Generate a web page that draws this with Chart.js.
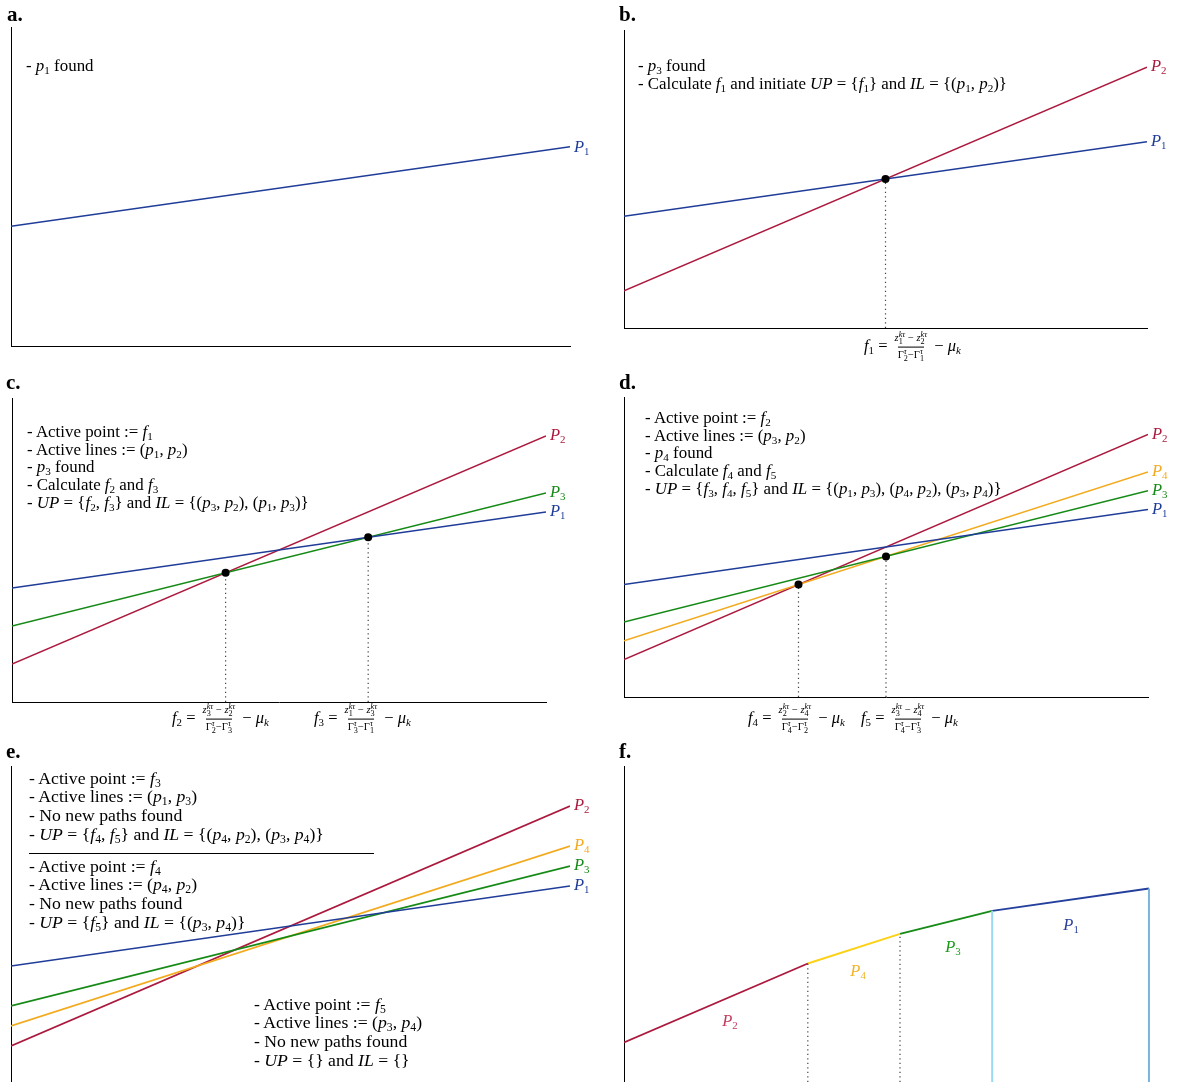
<!DOCTYPE html>
<html><head><meta charset="utf-8">
<script src="https://cdn.jsdelivr.net/npm/chart.js@4.4.1/dist/chart.umd.min.js"></script>
<style>
html,body{margin:0;padding:0;width:1177px;height:1082px;overflow:hidden;background:#fff;}
canvas{position:absolute;}
.t{position:absolute;font-family:"Liberation Serif","Times New Roman",serif;color:#000;white-space:nowrap;}
.blk{font-size:16.9px;line-height:17.6px;}
.blk.big{font-size:17.7px;line-height:18.7px;}
.pl{font-size:21px;font-weight:bold;line-height:1;}
sub{font-size:0.66em;vertical-align:-0.28em;line-height:0;}
.lab{position:absolute;font-family:"Liberation Serif","Times New Roman",serif;font-style:italic;font-size:16.5px;line-height:1;white-space:nowrap;}
.lab sub{font-style:normal;}
.fx{font-size:16.5px;line-height:1;}
.frac{display:inline-flex;flex-direction:column;align-items:center;vertical-align:middle;font-size:10.5px;line-height:1;margin:0 3px;}
.frac .den{border-top:0.8px solid #000;padding-top:1px;}
.frac .num{padding-bottom:1px;}
.ss{display:inline-flex;flex-direction:column;font-size:0.78em;line-height:0.85;vertical-align:middle;}
.rule{position:absolute;border-top:1px solid #000;height:0;}
</style></head><body>
<canvas id="ca"></canvas><canvas id="cb"></canvas><canvas id="cc"></canvas>
<canvas id="cd"></canvas><canvas id="ce"></canvas><canvas id="cf"></canvas>
<div id="overlay"></div>
<script>
// ---------------- data ----------------
const panelNames = ['a.', 'b.', 'c.', 'd.', 'e.', 'f.'];
const xRange = [0, 1];
const yRange = [0, 8];
const lineNames = ['1', '2', '3', '4'];            // P1..P4
const lineStartY = [3, 1, 2, 1.5];                 // value at x = 0
const lineEndY = [5, 7, 5.5, 6];                   // value at x = 1
const lineColors = ['#1f3c98', '#ab1a3e', '#168a16', '#f2aa1e'];
const linesA = [0];
const linesB = [0, 1];
const linesC = [0, 2, 1];
const linesD = [0, 2, 3, 1];
const linesE = [0, 2, 3, 1];
const pointsBX = [0.5];
const pointsBY = [4];
const pointsCX = [0.4, 0.667];
const pointsCY = [3.4, 4.333];
const pointsDX = [0.333, 0.5];
const pointsDY = [3, 3.75];
// panel f: lower envelope
const envX = [0, 0.333, 0.5, 0.667, 0.951];
const envY = [1, 3, 3.75, 4.333, 4.9];
const envLine = [1, 3, 2, 0];
const envColors = ['#ab1a3e', '#fcd116', '#168a16', '#243f9c'];
const envLabelColors = ['#c43a5c', '#f0b429', '#1a9a1a', '#2a3f9c'];
const envLabelX = [0.192, 0.424, 0.596, 0.81];
const envLabelY = [1.54, 2.81, 3.42, 3.97];
const dottedF = [1, 2];           // breakpoints with dotted lines
const solidF = [3, 4];            // breakpoints with light-blue lines
const solidFColors = ['#9ad8f5', '#7ab3de'];

// ---------------- layout ----------------
const boxes = {
  a: {l: 11, t: 27, r: 570, b: 346, xAxis: true},
  b: {l: 624, t: 30, r: 1147, b: 328, xAxis: true},
  c: {l: 12, t: 398, r: 546, b: 702, xAxis: true},
  d: {l: 624, t: 397, r: 1148, b: 697, xAxis: true},
  e: {l: 11, t: 766, r: 570, b: 1086, xAxis: false},
  f: {l: 624, t: 766, r: 1176, b: 1082, xAxis: false}
};
const PAD = 6;
const overlay = document.getElementById('overlay');

function addDiv(cls, html, left, top, extra) {
  const d = document.createElement('div');
  d.className = cls;
  d.innerHTML = html;
  d.style.left = left + 'px';
  d.style.top = top + 'px';
  if (extra) Object.assign(d.style, extra);
  overlay.appendChild(d);
  return d;
}

function lineDataset(i, width) {
  return {
    data: [{x: xRange[0], y: lineStartY[i]}, {x: xRange[1], y: lineEndY[i]}],
    borderColor: lineColors[i], borderWidth: width || 1.5, pointRadius: 0, tension: 0, fill: false
  };
}
function dotDataset(xs, ys) {
  return {
    data: xs.map((x, k) => ({x, y: ys[k]})), showLine: false, order: -1,
    pointRadius: 4, pointBackgroundColor: '#000', pointBorderColor: '#000', pointBorderWidth: 0
  };
}
function vDataset(x, y, color, dash, width) {
  return {
    data: [{x, y: yRange[0]}, {x, y}], borderColor: color, borderWidth: width,
    borderDash: dash || [], pointRadius: 0, fill: false
  };
}

function makeChart(id, key, datasets, xMax) {
  const bx = boxes[key];
  const cv = document.getElementById(id);
  const w = bx.r - bx.l + 2 * PAD, h = bx.b - bx.t + 2 * PAD;
  cv.width = w; cv.height = h;
  cv.style.left = (bx.l - PAD) + 'px';
  cv.style.top = (bx.t - PAD) + 'px';
  cv.style.width = w + 'px'; cv.style.height = h + 'px';
  const chart = new Chart(cv, {
    type: 'line',
    data: {datasets},
    options: {
      responsive: false, animation: false, events: [],
      devicePixelRatio: 1,
      layout: {padding: PAD},
      plugins: {legend: {display: false}, tooltip: {enabled: false}},
      scales: {
        x: {type: 'linear', min: xRange[0], max: xMax || xRange[1],
            grid: {display: false}, ticks: {display: false},
            border: {display: bx.xAxis, color: '#000', width: 1},
            afterFit: s => { s.height = 0; }},
        y: {type: 'linear', min: yRange[0], max: yRange[1],
            grid: {display: false}, ticks: {display: false},
            border: {display: true, color: '#000', width: 1},
            afterFit: s => { s.width = 0; }}
      }
    }
  });
  chart._ox = bx.l - PAD; chart._oy = bx.t - PAD;
  return chart;
}

function endLabels(chart, idxs, dy) {
  idxs.forEach(i => {
    const px = chart.scales.x.getPixelForValue(xRange[1]) + chart._ox + 4;
    const py = chart.scales.y.getPixelForValue(lineEndY[i]) + chart._oy + (dy || 0);
    addDiv('lab', 'P<sub>' + lineNames[i] + '</sub>', px, py,
      {color: lineColors[i], transform: 'translateY(-50%)'});
  });
}

// ---------------- charts ----------------
const dotted = '#444';
const dash = [1.3, 3.2];

const chA = makeChart('ca', 'a', linesA.map(i => lineDataset(i)));
endLabels(chA, linesA, 0);

const chB = makeChart('cb', 'b', [
  ...pointsBX.map((x, k) => vDataset(x, pointsBY[k], dotted, dash, 1.2)),
  ...linesB.map(i => lineDataset(i)),
  dotDataset(pointsBX, pointsBY)]);
endLabels(chB, linesB, -1);

const chC = makeChart('cc', 'c', [
  ...pointsCX.map((x, k) => vDataset(x, pointsCY[k], dotted, dash, 1.2)),
  ...linesC.map(i => lineDataset(i)),
  dotDataset(pointsCX, pointsCY)]);
endLabels(chC, linesC, -1);

const chD = makeChart('cd', 'd', [
  ...pointsDX.map((x, k) => vDataset(x, pointsDY[k], dotted, dash, 1.2)),
  ...linesD.map(i => lineDataset(i)),
  dotDataset(pointsDX, pointsDY)]);
endLabels(chD, linesD, -1);

const chE = makeChart('ce', 'e', linesE.map(i => lineDataset(i, 1.7)));
endLabels(chE, linesE, -1);

const fSets = [];
dottedF.forEach(k => fSets.push(vDataset(envX[k], envY[k], dotted, dash, 1.2)));
solidF.forEach((k, j) => fSets.push(vDataset(envX[k], envY[k], solidFColors[j], [], 2)));
envLine.forEach((li, s) => fSets.push({
  data: [{x: envX[s], y: envY[s]}, {x: envX[s + 1], y: envY[s + 1]}],
  borderColor: envColors[s], borderWidth: 1.9, pointRadius: 0, fill: false
}));
const chF = makeChart('cf', 'f', fSets, 1);
envLine.forEach((li, s) => {
  const px = chF.scales.x.getPixelForValue(envLabelX[s]) + chF._ox;
  const py = chF.scales.y.getPixelForValue(envLabelY[s]) + chF._oy;
  addDiv('lab', 'P<sub>' + lineNames[li] + '</sub>', px, py,
    {color: envLabelColors[s], transform: 'translate(-50%,-50%)'});
});

// ---------------- text ----------------
const p = n => '<i>p</i><sub>' + n + '</sub>';
const f = n => '<i>f</i><sub>' + n + '</sub>';
const ss = (sup, sub) => '<span class="ss"><span>' + sup + '</span><span>' + sub + '</span></span>';
function formula(n, a, b, c, d) {
  return f(n) + ' = <span class="frac"><span class="num"><i>z</i>' + ss('<i>kτ</i>', a) +
    ' − <i>z</i>' + ss('<i>kτ</i>', b) + '</span><span class="den">Γ' + ss('<i>τ</i>', c) +
    '−Γ' + ss('<i>τ</i>', d) + '</span></span> − <i>μ</i><sub><i>k</i></sub>';
}

const labelPos = [[7, 4], [619, 4], [6, 372], [619, 372], [6, 741], [619, 741]];
panelNames.forEach((nm, k) => addDiv('t pl', nm, labelPos[k][0], labelPos[k][1]));

const textA = ['- ' + p(1) + ' found'];
const textB = ['- ' + p(3) + ' found',
  '- Calculate ' + f(1) + ' and initiate <i>UP</i> = {' + f(1) + '} and <i>IL</i> = {(' + p(1) + ', ' + p(2) + ')}'];
const textC = ['- Active point := ' + f(1), '- Active lines := (' + p(1) + ', ' + p(2) + ')',
  '- ' + p(3) + ' found', '- Calculate ' + f(2) + ' and ' + f(3),
  '- <i>UP</i> = {' + f(2) + ', ' + f(3) + '} and <i>IL</i> = {(' + p(3) + ', ' + p(2) + '), (' + p(1) + ', ' + p(3) + ')}'];
const textD = ['- Active point := ' + f(2), '- Active lines := (' + p(3) + ', ' + p(2) + ')',
  '- ' + p(4) + ' found', '- Calculate ' + f(4) + ' and ' + f(5),
  '- <i>UP</i> = {' + f(3) + ', ' + f(4) + ', ' + f(5) + '} and <i>IL</i> = {(' + p(1) + ', ' + p(3) + '), (' + p(4) + ', ' + p(2) + '), (' + p(3) + ', ' + p(4) + ')}'];
const textE1 = ['- Active point := ' + f(3), '- Active lines := (' + p(1) + ', ' + p(3) + ')',
  '- No new paths found',
  '- <i>UP</i> = {' + f(4) + ', ' + f(5) + '} and <i>IL</i> = {(' + p(4) + ', ' + p(2) + '), (' + p(3) + ', ' + p(4) + ')}'];
const textE2 = ['- Active point := ' + f(4), '- Active lines := (' + p(4) + ', ' + p(2) + ')',
  '- No new paths found', '- <i>UP</i> = {' + f(5) + '} and <i>IL</i> = {(' + p(3) + ', ' + p(4) + ')}'];
const textE3 = ['- Active point := ' + f(5), '- Active lines := (' + p(3) + ', ' + p(4) + ')',
  '- No new paths found', '- <i>UP</i> = {} and <i>IL</i> = {}'];

addDiv('t blk', textA.join('<br>'), 26, 66 - 8.8);
addDiv('t blk', textB.join('<br>'), 638, 66 - 8.8);
addDiv('t blk', textC.join('<br>'), 27, 432 - 8.8);
addDiv('t blk', textD.join('<br>'), 645, 418 - 8.8);
addDiv('t blk big', textE1.join('<br>'), 29, 778 - 9.3);
addDiv('rule', '', 29, 853, {width: '345px'});
addDiv('t blk big', textE2.join('<br>'), 29, 866 - 9.3);
addDiv('t blk big', textE3.join('<br>'), 254, 1004 - 9.3);

addDiv('t fx', formula(1, 1, 2, 2, 1), 864, 347, {transform: 'translateY(-50%)'});
addDiv('t fx', formula(2, 3, 2, 2, 3), 172, 719, {transform: 'translateY(-50%)'});
addDiv('t fx', formula(3, 1, 3, 3, 1), 314, 719, {transform: 'translateY(-50%)'});
addDiv('t fx', formula(4, 2, 4, 4, 2), 748, 719, {transform: 'translateY(-50%)'});
addDiv('t fx', formula(5, 3, 4, 4, 3), 861, 719, {transform: 'translateY(-50%)'});
</script>
</body></html>
